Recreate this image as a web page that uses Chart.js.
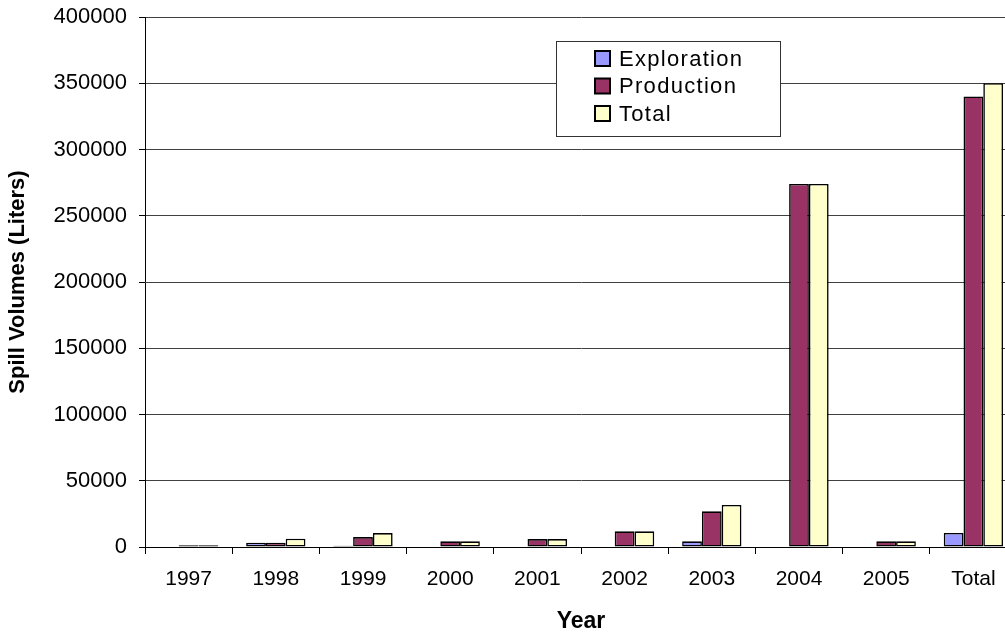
<!DOCTYPE html>
<html>
<head>
<meta charset="utf-8">
<title>Spill Volumes</title>
<script src="https://cdn.jsdelivr.net/npm/chart.js@4/dist/chart.umd.min.js"></script>
<style>
  html, body { margin: 0; padding: 0; background: #fff; overflow: hidden; }
  body { width: 1005px; height: 635px; }
  #wrap { width: 1020px; height: 635px; }
</style>
</head>
<body>
<div id="wrap"><canvas id="c" width="1020" height="635"></canvas></div>
<script>
// Spill volumes in liters by year
const categories = ['1997', '1998', '1999', '2000', '2001', '2002', '2003', '2004', '2005', 'Total'];
const exploration = [0, 3300, 1000, 0, 0, 0, 4300, 0, 0, 10600];
const production = [1300, 3300, 7500, 4300, 6000, 11800, 26900, 274000, 4300, 340000];
const total = [1300, 6300, 10500, 4300, 6000, 11800, 31700, 274000, 4300, 350000];
const yTicks = [0, 50000, 100000, 150000, 200000, 250000, 300000, 350000, 400000];

const FONT = '"Liberation Sans", Arial, Helvetica, sans-serif';

// Boxed legend drawn inside the plot area
const boxLegend = {
  id: 'boxLegend',
  afterDatasetsDraw(chart) {
    const ctx = chart.ctx;
    const x0 = 556.5, y0 = 41.5, w = 224, h = 95;
    ctx.save();
    ctx.fillStyle = '#ffffff';
    ctx.fillRect(x0, y0, w, h);
    ctx.strokeStyle = '#333333';
    ctx.lineWidth = 1;
    ctx.strokeRect(x0, y0, w, h);
    ctx.font = '22px ' + FONT;
    ctx.textBaseline = 'middle';
    ctx.textAlign = 'left';
    try { ctx.letterSpacing = '1.3px'; } catch (e) {}
    chart.data.datasets.forEach((ds, i) => {
      const cy = 58.5 + i * 27.5;
      ctx.fillStyle = ds.backgroundColor;
      ctx.fillRect(595, cy - 7.5, 15, 15);
      ctx.strokeStyle = '#000';
      ctx.lineWidth = 2;
      ctx.strokeRect(595, cy - 7.5, 15, 15);
      ctx.fillStyle = '#000';
      ctx.fillText(ds.label, 619, cy + 1);
    });
    ctx.restore();
  }
};

new Chart(document.getElementById('c'), {
  type: 'bar',
  data: {
    labels: categories,
    datasets: [
      { label: 'Exploration', data: exploration, backgroundColor: '#9999ff' },
      { label: 'Production', data: production, backgroundColor: '#993366' },
      { label: 'Total', data: total, backgroundColor: '#ffffcc' }
    ]
  },
  options: {
    responsive: false,
    animation: false,
    devicePixelRatio: 1,
    layout: { padding: { top: 17, right: 3, bottom: 0, left: 0 } },
    datasets: {
      bar: {
        borderColor: '#000000',
        borderWidth: 1.6,
        borderSkipped: false,
        categoryPercentage: 0.68,
        barPercentage: 1.0
      }
    },
    plugins: {
      legend: { display: false },
      tooltip: { enabled: false }
    },
    scales: {
      x: {
        afterFit(scale) { scale.height = 88; },
        grid: {
          offset: true,
          drawOnChartArea: false,
          drawTicks: true,
          tickLength: 7,
          color: '#000000',
          lineWidth: 1
        },
        border: { display: true, color: '#000000', width: 1 },
        ticks: {
          color: '#000000',
          font: { family: FONT, size: 21 },
          padding: 13,
          maxRotation: 0,
          autoSkip: false
        },
        title: {
          display: true,
          text: 'Year',
          color: '#000000',
          font: { family: FONT, size: 23, weight: 'bold' },
          padding: { top: 0, bottom: 0 }
        }
      },
      y: {
        min: 0,
        max: 400000,
        afterFit(scale) {
          scale.width = 145;
          scale.paddingTop = 0;
          scale.paddingBottom = 0;
        },
        afterBuildTicks(scale) { scale.ticks = yTicks.map(v => ({ value: v })); },
        grid: {
          color: '#404040',
          lineWidth: 1,
          drawTicks: true,
          tickLength: 6,
          tickColor: '#000000'
        },
        border: { display: true, color: '#000000', width: 1 },
        ticks: {
          color: '#000000',
          font: { family: FONT, size: 22 },
          padding: 12,
          callback: v => String(v)
        },
        title: {
          display: true,
          text: 'Spill Volumes (Liters)',
          color: '#000000',
          font: { family: FONT, size: 22, weight: 'bold' },
          padding: { top: 5, bottom: 0 }
        }
      }
    }
  },
  plugins: [boxLegend]
});
</script>
</body>
</html>
